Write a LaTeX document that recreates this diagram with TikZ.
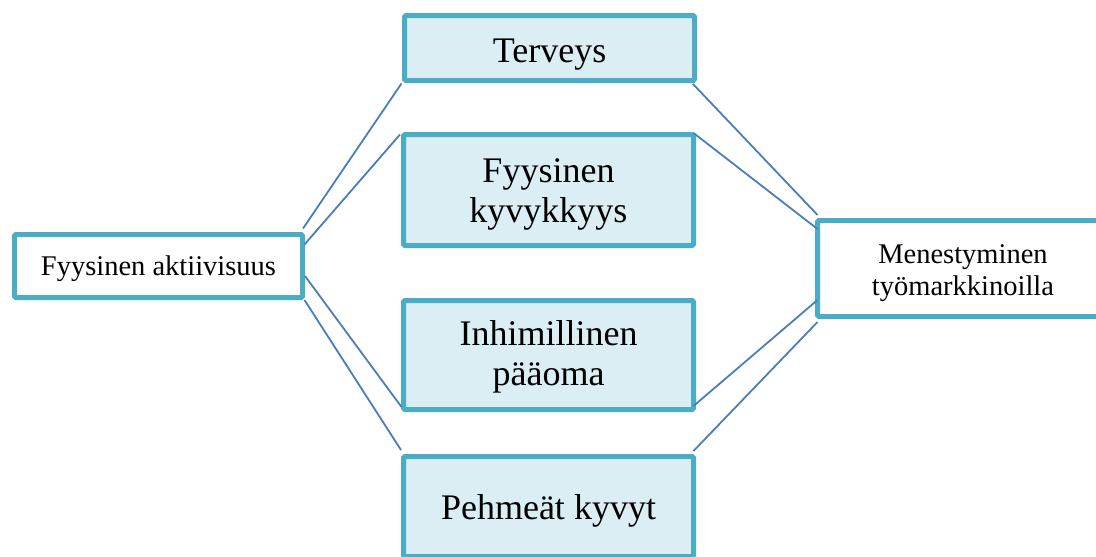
\documentclass[tikz,border=0pt]{standalone}
\usepackage{fontspec}
\setmainfont{Liberation Serif}
\definecolor{bordc}{HTML}{4BACC6}
\definecolor{fillc}{HTML}{DAEEF3}
\definecolor{linec}{HTML}{4A7EBB}
\newcommand{\strutof}[1]{\rule{0pt}{#1}}
\begin{document}
\begin{tikzpicture}[x=1pt,y=-1pt,
  box/.style={draw=bordc, line width=5pt, outer sep=0pt, inner sep=0pt, align=center, rounded corners=1.5pt},
  midbox/.style={box, fill=fillc, minimum width=290pt, font=\fontsize{36}{40}\selectfont},
  sidebox/.style={box, fill=white, font=\fontsize{28.5}{32}\selectfont},
  conn/.style={draw=linec, line width=1.8pt}]
\useasboundingbox (0,0) rectangle (1096,557);
\node[sidebox, minimum width=288pt, minimum height=63pt, text height=20pt, text depth=2pt] (L) at (158.5,266) {Fyysinen aktiivisuus};
\node[midbox, minimum height=65pt, text height=30pt, text depth=2pt] (T) at (549.5,48) {Terveys};
\node[midbox, minimum height=111pt] (F) at (548.5,190) {\strutof{32pt}Fyysinen\\kyvykkyys};
\node[midbox, minimum height=109pt] (I) at (548.5,355) {\strutof{28pt}Inhimillinen\\pääoma};
\node[midbox, minimum height=100pt, text height=27pt, text depth=2pt] (P) at (548.5,506.5) {Pehmeät kyvyt};
\node[sidebox, minimum width=291pt, minimum height=96pt] (R) at (963,268.5) {\strutof{28pt}Menestyminen\\työmarkkinoilla};
\draw[conn] ([shift={(0.5pt,6pt)}]L.north east) -- ([shift={(-3pt,-3pt)}]T.south west);
\draw[conn] ([shift={(2pt,-10pt)}]L.north east) -- ([shift={(-3.5pt,0pt)}]F.north west);
\draw[conn] ([shift={(2.5pt,21.5pt)}]L.south east) -- ([shift={(-2pt,2.5pt)}]I.south west);
\draw[conn] ([shift={(2pt,-2.5pt)}]L.south east) -- ([shift={(-2.5pt,6.5pt)}]P.north west);
\draw[conn] ([shift={(-1.5pt,-3.5pt)}]T.south east) -- ([shift={(0pt,5.5pt)}]R.north west);
\draw[conn] ([shift={(0pt,1.5pt)}]F.north east) -- ([shift={(0pt,-8.5pt)}]R.north west);
\draw[conn] ([shift={(0pt,3.5pt)}]I.south east) -- ([shift={(0pt,16.5pt)}]R.south west);
\draw[conn] ([shift={(0pt,5.5pt)}]P.north east) -- ([shift={(0pt,-5.5pt)}]R.south west);
\end{tikzpicture}
\end{document}
